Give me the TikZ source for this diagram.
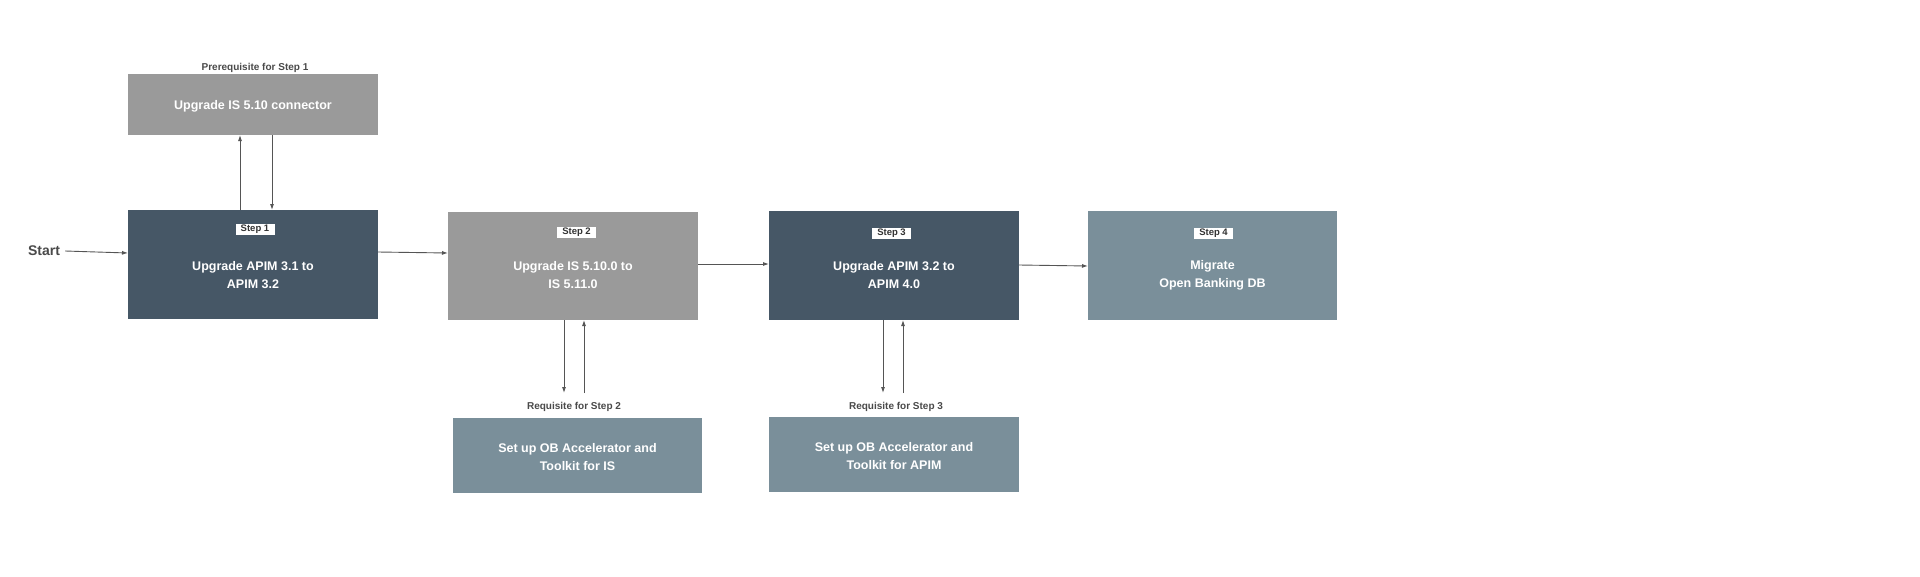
\documentclass[tikz,border=0pt]{standalone}
\usepackage{fontspec}
\setmainfont{Liberation Sans}
\usetikzlibrary{arrows.meta,calc}
\definecolor{darkslate}{HTML}{465766}
\definecolor{midgray}{HTML}{9A9A9A}
\definecolor{bluegray}{HTML}{7A8F9A}
\definecolor{linegray}{HTML}{555555}
\definecolor{labelgray}{HTML}{4A4A4A}
\definecolor{tagtext}{HTML}{333333}
\begin{document}
\begin{tikzpicture}[x=1pt,y=-1pt,
  box/.style={draw=none,minimum width=250pt,inner sep=0pt,outer sep=0pt},
  darkbox/.style={box,fill=darkslate,minimum height=109pt},
  graybox/.style={box,fill=midgray,minimum height=109pt},
  bluebox/.style={box,fill=bluegray,minimum height=109pt},
  boxtext/.style={text=white,font=\bfseries\fontsize{12.5}{18}\selectfont,align=center,inner sep=0pt},
  tagbox/.style={fill=white,text=tagtext,font=\bfseries\fontsize{9.5}{10}\selectfont,minimum width=39pt,minimum height=11pt,inner sep=0pt},
  smalllabel/.style={text=labelgray,font=\bfseries\fontsize{10}{11}\selectfont,inner sep=0pt},
  arr/.style={draw=linegray,line width=0.9pt,-{Latex[length=6pt,width=4pt]}}
]
\useasboundingbox (0,0) rectangle (1920,576);
\fill[white] (0,0) rectangle (1920,576);

% boxes
\node[graybox,minimum height=61pt] (pre) at (253,104.5) {};
\node[boxtext] (pret) at ($(pre.center)+(0,1.5)$) {Upgrade IS 5.10 connector};
\node[smalllabel] (prel) at (255,67.5) {Prerequisite for Step 1};

\node[darkbox] (s1) at (253,264.5) {};
\node[tagbox] (s1tag) at (255,229) {Step 1};
\node[boxtext] (s1t) at ($(s1.center)+(0,11)$) {Upgrade APIM 3.1 to\\APIM 3.2};

\node[graybox,minimum height=108pt] (s2) at (573,266) {};
\node[tagbox] (s2tag) at (576.5,232.5) {Step 2};
\node[boxtext] (s2t) at ($(s2.center)+(0,9.5)$) {Upgrade IS 5.10.0 to\\IS 5.11.0};

\node[darkbox] (s3) at (894,265.5) {};
\node[tagbox] (s3tag) at (891.5,233) {Step 3};
\node[boxtext] (s3t) at ($(s3.center)+(0,10)$) {Upgrade APIM 3.2 to\\APIM 4.0};

\node[bluebox,minimum width=249pt] (s4) at (1212.5,265.5) {};
\node[tagbox] (s4tag) at (1213.5,233) {Step 4};
\node[boxtext] (s4t) at ($(s4.center)+(0,10)$) {Migrate\\Open Banking DB};

\node[bluebox,minimum width=249pt,minimum height=75pt] (r2) at (577.5,455.5) {};
\node[boxtext] (r2t) at ($(r2.center)+(0,1.5)$) {Set up OB Accelerator and\\Toolkit for IS};
\node[smalllabel] (r2l) at (574,406.5) {Requisite for Step 2};

\node[bluebox,minimum height=75pt] (r3) at (894,454.5) {};
\node[boxtext] (r3t) at ($(r3.center)+(0,1.5)$) {Set up OB Accelerator and\\Toolkit for APIM};
\node[smalllabel] (r3l) at (896,406.5) {Requisite for Step 3};

\node[text=labelgray,font=\bfseries\fontsize{14}{16}\selectfont,inner sep=0pt] (start) at (44,251) {Start};

% free ends of the requisite connectors
\coordinate (r2a) at (564,393);
\coordinate (r2b) at (584,393);
\coordinate (r3a) at (883,393);
\coordinate (r3b) at (903,393);

% connectors
\draw[arr] ($(start.east)+(5,0)$) -- ($(s1.west)+(0,-11.5)$);
\draw[arr] ($(s1.east)+(0,-12.5)$) -- ($(s2.west)+(0,-13)$);
\draw[arr] ($(s2.east)+(0,-2)$) -- ($(s3.west)+(0,-1.5)$);
\draw[arr] ($(s3.east)+(0,-0.5)$) -- ($(s4.west)+(0,0.5)$);

\draw[arr] (s1.north -| 240,0) -- (pre.south -| 240,0);
\draw[arr] (pre.south -| 272,0) -- (s1.north -| 272,0);

\draw[arr] (s2.south -| r2a) -- (r2a);
\draw[arr] (r2b) -- (s2.south -| r2b);

\draw[arr] (s3.south -| r3a) -- (r3a);
\draw[arr] (r3b) -- (s3.south -| r3b);
\end{tikzpicture}
\end{document}
